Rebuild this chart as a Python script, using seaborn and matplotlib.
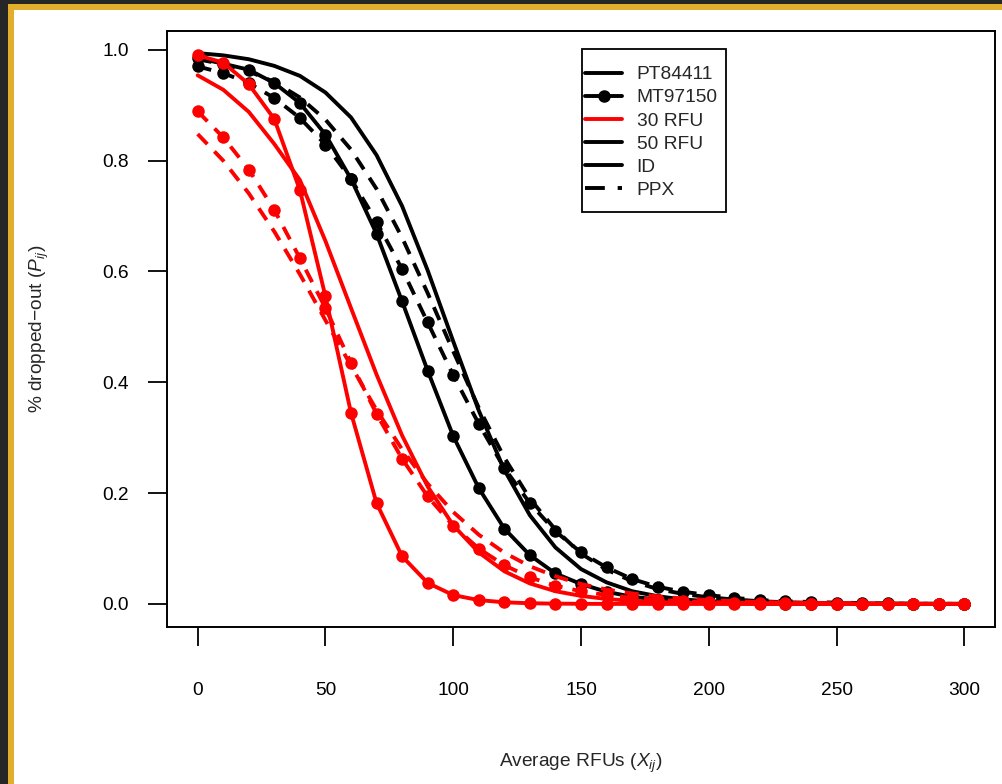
import matplotlib
matplotlib.use("Agg")
import matplotlib.pyplot as plt
import seaborn as sns
from matplotlib.lines import Line2D
from matplotlib.patches import Rectangle

sns.set_style("white")
plt.rcParams['font.family'] = ['Liberation Sans', 'DejaVu Sans']
plt.rcParams['mathtext.fontset'] = 'custom'
plt.rcParams['mathtext.rm'] = 'Liberation Sans'
plt.rcParams['mathtext.it'] = 'Liberation Sans:italic'

# average RFU grid
rfu = list(range(0, 301, 10))

# 50 RFU threshold (black)
pt_id_50 = [0.994, 0.990, 0.983, 0.971, 0.953, 0.923, 0.878, 0.810, 0.718, 0.602,
            0.474, 0.349, 0.242, 0.160, 0.102, 0.063, 0.039, 0.023, 0.014, 0.008,
            0.005, 0.003, 0.0018, 0.0011, 0.0006, 0.0004, 0.0002, 0.0001, 0.0001, 0.0, 0.0]
pt_ppx_50 = [0.983, 0.974, 0.961, 0.942, 0.914, 0.874, 0.820, 0.749, 0.661, 0.561,
             0.456, 0.354, 0.264, 0.190, 0.134, 0.091, 0.062, 0.041, 0.027, 0.018,
             0.012, 0.008, 0.005, 0.003, 0.002, 0.0014, 0.0009, 0.0006, 0.0004, 0.0003, 0.0002]
mt_id_50 = [0.985, 0.975, 0.964, 0.940, 0.904, 0.847, 0.767, 0.668, 0.546, 0.421,
            0.303, 0.209, 0.136, 0.088, 0.055, 0.036, 0.022, 0.013, 0.008, 0.005,
            0.003, 0.0018, 0.0011, 0.0007, 0.0004, 0.0002, 0.0001, 0.0001, 0.0, 0.0, 0.0]
mt_ppx_50 = [0.970, 0.958, 0.940, 0.913, 0.877, 0.829, 0.767, 0.690, 0.604, 0.508,
             0.413, 0.325, 0.245, 0.182, 0.131, 0.093, 0.066, 0.045, 0.031, 0.022,
             0.016, 0.011, 0.007, 0.005, 0.0035, 0.0024, 0.0016, 0.0011, 0.0008, 0.0005, 0.0004]

# 30 RFU threshold (red)
pt_id_30 = [0.954, 0.928, 0.888, 0.830, 0.765, 0.655, 0.534, 0.414, 0.304, 0.212,
            0.142, 0.093, 0.059, 0.037, 0.023, 0.0146, 0.009, 0.0056, 0.0035, 0.0021,
            0.0013, 0.0008, 0.0005, 0.0003, 0.0002, 0.0001, 0.0001, 0.0, 0.0, 0.0, 0.0]
pt_ppx_30 = [0.848, 0.800, 0.741, 0.672, 0.595, 0.512, 0.430, 0.350, 0.279, 0.217,
             0.166, 0.125, 0.0925, 0.068, 0.050, 0.036, 0.026, 0.019, 0.0136, 0.0098,
             0.007, 0.005, 0.0036, 0.0026, 0.0019, 0.0013, 0.001, 0.0007, 0.0005, 0.0003, 0.0002]
mt_id_30 = [0.990, 0.977, 0.938, 0.875, 0.747, 0.555, 0.345, 0.182, 0.086, 0.038,
            0.016, 0.007, 0.003, 0.0013, 0.0006, 0.0003, 0.0001, 0.0001, 0.0, 0.0,
            0.0, 0.0, 0.0, 0.0, 0.0, 0.0, 0.0, 0.0, 0.0, 0.0, 0.0]
mt_ppx_30 = [0.889, 0.842, 0.784, 0.711, 0.624, 0.534, 0.435, 0.343, 0.262, 0.194,
             0.141, 0.100, 0.070, 0.048, 0.033, 0.023, 0.016, 0.011, 0.0075, 0.005,
             0.0035, 0.0024, 0.0016, 0.001, 0.0007, 0.0005, 0.0003, 0.0002, 0.0001, 0.0001, 0.0]

legend_labels = ["PT84411", "MT97150", "30 RFU", "50 RFU", "ID", "PPX"]

dash = (0, (3.6, 2.6))
lw = 2.8
fs = 13.75

fig = plt.figure(figsize=(10.03, 7.84), dpi=100)

# screenshot frame: dark edge + gold border
fig.add_artist(Rectangle((0, 0), 8 / 1003, 1, transform=fig.transFigure,
                         color='#262626', lw=0))
fig.add_artist(Rectangle((0, 1 - 4 / 784), 1, 4 / 784, transform=fig.transFigure,
                         color='#262626', lw=0))
fig.add_artist(Rectangle((8 / 1003, 0), 6 / 1003, 1 - 4 / 784, transform=fig.transFigure,
                         color='#E2AE2B', lw=0))
fig.add_artist(Rectangle((8 / 1003, 1 - 10 / 784), 1, 6 / 784, transform=fig.transFigure,
                         color='#E2AE2B', lw=0))

ax = fig.add_axes([0.1665, 0.2003, 0.8255, 0.7602])

series = [
    (pt_id_50, 'black', '-', None),
    (pt_ppx_50, 'black', dash, None),
    (mt_id_50, 'black', '-', 'o'),
    (mt_ppx_50, 'black', dash, 'o'),
    (pt_id_30, 'red', '-', None),
    (pt_ppx_30, 'red', dash, None),
    (mt_id_30, 'red', '-', 'o'),
    (mt_ppx_30, 'red', dash, 'o'),
]
for vals, col, ls, mk in series:
    sns.lineplot(x=rfu, y=vals, color=col, linestyle=ls, marker=mk, markersize=9,
                 markeredgewidth=0, markeredgecolor=col, lw=lw, ax=ax,
                 estimator=None, sort=False)

ax.set_xlim(-12, 312)
ax.set_ylim(-0.0415, 1.034)
ax.set_xticks(range(0, 301, 50))
ax.set_yticks([0, 0.2, 0.4, 0.6, 0.8, 1.0])
ax.set_yticklabels(["0.0", "0.2", "0.4", "0.6", "0.8", "1.0"])
ax.tick_params(axis='both', direction='out', length=13.7, width=1.3,
               labelsize=fs, colors='black', bottom=True, left=True)
ax.tick_params(axis='x', pad=26)
ax.tick_params(axis='y', pad=14)
for s in ax.spines.values():
    s.set_color('black')
    s.set_linewidth(1.4)

ax.set_xlabel(r"Average RFUs ($X_{ij}$)", fontsize=fs)
ax.xaxis.set_label_coords(0.5, -0.209)
ax.set_ylabel("% dropped\u2212out ($P_{ij}$)", fontsize=fs)
ax.yaxis.set_label_coords(-0.140, 0.5)

# legend box drawn separately so the padding matches
ax.add_patch(Rectangle(((582 - 167) / 828, (627 - 212) / 596), 144 / 828, 163 / 596,
                       transform=ax.transAxes, fill=True, facecolor='white',
                       edgecolor='black', lw=1.3, zorder=5))
handles = [
    Line2D([], [], color='black', lw=lw),
    Line2D([], [], color='black', lw=lw, marker='o', markersize=8),
    Line2D([], [], color='red', lw=lw),
    Line2D([], [], color='black', lw=lw),
    Line2D([], [], color='black', lw=lw),
    Line2D([], [], color='black', lw=lw, linestyle=(0, (5.1, 3.3))),
]
leg = ax.legend(handles, legend_labels, loc='upper left',
                bbox_to_anchor=((585 - 167) / 828, (627 - 66) / 596),
                borderaxespad=0, frameon=False, fontsize=fs, handlelength=1.95,
                handletextpad=0.75, labelspacing=0.3, borderpad=0)
leg.set_zorder(6)

fig.savefig("out.png", dpi=100)
